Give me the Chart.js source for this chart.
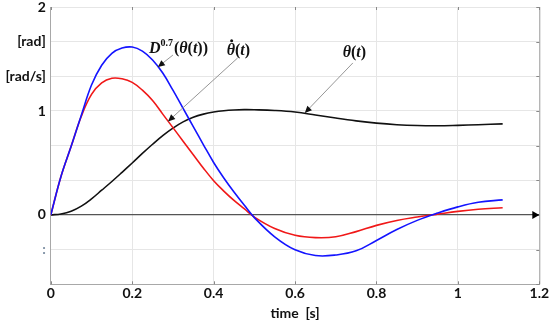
<!DOCTYPE html>
<html><head><meta charset="utf-8">
<script src="https://cdn.jsdelivr.net/npm/chart.js@4/dist/chart.umd.min.js"></script>
<style>html,body{margin:0;padding:0;background:#fff}#wrap{width:550px;height:322px}</style>
</head><body><div id="wrap"><canvas id="c" width="550" height="322"></canvas></div>
<script>
// ---- data ----
const time     = [0, 0.025, 0.05, 0.075, 0.1, 0.125, 0.15, 0.175, 0.2, 0.225, 0.25, 0.275, 0.3, 0.325, 0.35, 0.375, 0.4, 0.425, 0.45, 0.475, 0.5,
                  0.55, 0.6, 0.65, 0.7, 0.75, 0.8, 0.85, 0.9, 0.95, 1.0, 1.05, 1.11];
const theta    = [0, 0.01, 0.036, 0.085, 0.155, 0.238, 0.322, 0.41, 0.50, 0.592, 0.68, 0.763, 0.835, 0.895, 0.94, 0.97, 0.99, 1.003, 1.01, 1.013, 1.012,
                  1.005, 0.99, 0.962, 0.932, 0.905, 0.883, 0.868, 0.86, 0.858, 0.862, 0.868, 0.876];
const thetaDot = [0, 0.37, 0.66, 0.95, 1.16, 1.27, 1.315, 1.31, 1.275, 1.20, 1.10, 0.97, 0.84, 0.71, 0.58, 0.45, 0.33, 0.23, 0.14, 0.06, -0.02,
                  -0.13, -0.195, -0.218, -0.21, -0.16, -0.10, -0.053, -0.02, 0.008, 0.035, 0.055, 0.07];
const fracD    = [0, 0.37, 0.66, 0.96, 1.25, 1.44, 1.555, 1.605, 1.615, 1.575, 1.49, 1.365, 1.20, 1.025, 0.85, 0.675, 0.505, 0.355, 0.22, 0.095, -0.025,
                  -0.21, -0.335, -0.39, -0.385, -0.345, -0.245, -0.14, -0.052, 0.018, 0.078, 0.122, 0.145];
const xTickValues = [0, 0.2, 0.4, 0.6, 0.8, 1, 1.2];
const xTickLabels = ['0', '0.2', '0.4', '0.6', '0.8', '1', '1.2'];
const yTickValues = [-2/3, -1/3, 0, 1/3, 2/3, 1, 4/3, 5/3, 2];
const yTickLabels = ['', ':', '0', '', '', '1', '[rad/s]', '[rad]', '2'];
const xTitle = 'time  [s]';

// annotation anchors (data units): text, leader tail, arrow tip
const annotations = [
  {kind: 'D',     text: [0.241, 1.56], tail: [0.300, 1.538], tip: [0.263, 1.423]},
  {kind: 'dot',   text: [0.432, 1.54], tail: [0.459, 1.51],  tip: [0.288, 0.90]},
  {kind: 'theta', text: [0.717, 1.52], tail: [0.742, 1.462], tip: [0.624, 0.981]}
];

const pts = arr => time.map((t, i) => ({x: t, y: arr[i]}));
const LBL_FONT = 'Lato, "Open Sans", sans-serif';
const MATH = '"Liberation Serif", "DejaVu Serif", serif';

function arrow(ctx, x1, y1, x2, y2) {
  ctx.save();
  ctx.strokeStyle = '#8a8a8a'; ctx.lineWidth = 0.9;
  ctx.beginPath(); ctx.moveTo(x1, y1); ctx.lineTo(x2, y2); ctx.stroke();
  const a = Math.atan2(y2 - y1, x2 - x1), L = 7, W = 3.2;
  ctx.fillStyle = '#111';
  ctx.beginPath();
  ctx.moveTo(x2, y2);
  ctx.lineTo(x2 - L*Math.cos(a) + W*Math.sin(a), y2 - L*Math.sin(a) - W*Math.cos(a));
  ctx.lineTo(x2 - L*Math.cos(a) - W*Math.sin(a), y2 - L*Math.sin(a) + W*Math.cos(a));
  ctx.closePath(); ctx.fill();
  ctx.restore();
}

function drawSegs(ctx, x, y, segs) {
  segs.forEach(s => {
    ctx.font = s.font;
    ctx.fillText(s.t, x, y + (s.dy || 0));
    const w = ctx.measureText(s.t).width;
    if (s.dot) {
      ctx.beginPath(); ctx.arc(x + w*0.6, y - 14, 1.5, 0, Math.PI*2); ctx.fill();
    }
    x += w + (s.gap || 0);
  });
}

const decor = {
  id: 'decor',
  afterDatasetsDraw(chart) {
    const {ctx, chartArea: ca, scales: {x, y}} = chart;
    ctx.save();
    ctx.strokeStyle = '#a0a0a0'; ctx.lineWidth = 1;
    ctx.beginPath(); ctx.moveTo(ca.right + 0.5, ca.top); ctx.lineTo(ca.right + 0.5, ca.bottom); ctx.stroke();
    ctx.strokeStyle = '#888';
    yTickValues.forEach(v => {
      const py = Math.round(y.getPixelForValue(v)) + 0.5;
      ctx.beginPath(); ctx.moveTo(ca.right - 3, py); ctx.lineTo(ca.right, py); ctx.stroke();
    });
    xTickValues.forEach(v => {
      const px = Math.round(x.getPixelForValue(v)) + 0.5;
      ctx.beginPath(); ctx.moveTo(px, ca.bottom - 3); ctx.lineTo(px, ca.bottom); ctx.stroke();
      ctx.beginPath(); ctx.moveTo(px, ca.top); ctx.lineTo(px, ca.top + 3); ctx.stroke();
    });
    const y0 = y.getPixelForValue(0);
    ctx.fillStyle = '#000';
    ctx.beginPath(); ctx.moveTo(ca.right, y0); ctx.lineTo(ca.right - 7, y0 - 4); ctx.lineTo(ca.right - 7, y0 + 4); ctx.closePath(); ctx.fill();
    ctx.fillStyle = '#111'; ctx.textBaseline = 'alphabetic'; ctx.textAlign = 'left';
    annotations.forEach(a => {
      arrow(ctx, x.getPixelForValue(a.tail[0]), y.getPixelForValue(a.tail[1]),
                 x.getPixelForValue(a.tip[0]), y.getPixelForValue(a.tip[1]));
      const tx = x.getPixelForValue(a.text[0]), ty = y.getPixelForValue(a.text[1]);
      const bi = 'italic bold 16px ' + MATH, b = 'bold 16px ' + MATH;
      if (a.kind === 'D') {
        drawSegs(ctx, tx, ty, [{t: 'D', font: bi}, {t: '0.7', font: 'bold 10px ' + MATH, dy: -7, gap: 1}, {t: '(', font: b}, {t: 'θ', font: bi}, {t: '(', font: b}, {t: 't', font: bi}, {t: '))', font: b}]);
      } else if (a.kind === 'dot') {
        drawSegs(ctx, tx, ty, [{t: 'θ', font: bi, dot: true}, {t: '(', font: b}, {t: 't', font: bi}, {t: ')', font: b}]);
      } else {
        drawSegs(ctx, tx, ty, [{t: 'θ', font: bi}, {t: '(', font: b}, {t: 't', font: bi}, {t: ')', font: b}]);
      }
    });
    ctx.restore();
  }
};

const common = {borderWidth: 1.6, pointRadius: 0, tension: 0.4, fill: false};
new Chart(document.getElementById('c'), {
  type: 'line',
  data: {
    datasets: [
      Object.assign({label: 'D0.7', data: pts(fracD), borderColor: '#1414ff'}, common),
      Object.assign({label: 'thetaDot', data: pts(thetaDot), borderColor: '#f01818'}, common),
      Object.assign({label: 'theta', data: pts(theta), borderColor: '#111111'}, common)
    ]
  },
  options: {
    responsive: false, animation: false, devicePixelRatio: 1,
    layout: {padding: {top: 7, right: 10.7, left: 0, bottom: 0}},
    plugins: {legend: {display: false}, tooltip: {enabled: false}},
    scales: {
      x: {
        type: 'linear', min: 0, max: 1.2,
        afterBuildTicks: s => { s.ticks = xTickValues.map(v => ({value: v})); },
        afterFit: s => { s.height = 37.7; s.paddingLeft = 0; s.paddingRight = 0; },
        ticks: {
          callback: (v, i) => xTickLabels[i],
          color: '#111', font: {family: LBL_FONT, size: 14, weight: 'bold'}, padding: 1, maxRotation: 0, autoSkip: false
        },
        grid: {color: '#e6e6e6', drawTicks: false},
        border: {color: '#a8a8a8'},
        title: {display: true, text: xTitle, color: '#111', font: {family: LBL_FONT, size: 14, weight: 'bold'}, padding: {top: 0, bottom: 0}}
      },
      y: {
        type: 'linear', min: -2/3, max: 2,
        afterBuildTicks: s => { s.ticks = yTickValues.map(v => ({value: v})); },
        afterFit: s => { s.width = 50.8; s.paddingTop = 0; s.paddingBottom = 0; },
        ticks: {
          callback: (v, i) => yTickLabels[i],
          color: c => (c.tick && Math.abs(c.tick.value + 1/3) < 1e-6) ? '#7d8fa3' : '#111',
          font: {family: LBL_FONT, size: 14, weight: 'bold'}, padding: 5, autoSkip: false
        },
        grid: {
          color: c => (c.tick && Math.abs(c.tick.value) < 1e-6) ? '#555' : '#e6e6e6',
          lineWidth: c => (c.tick && Math.abs(c.tick.value) < 1e-6) ? 1.2 : 1,
          drawTicks: false
        },
        border: {color: '#a8a8a8'}
      }
    }
  },
  plugins: [decor]
});
</script>
</body></html>
